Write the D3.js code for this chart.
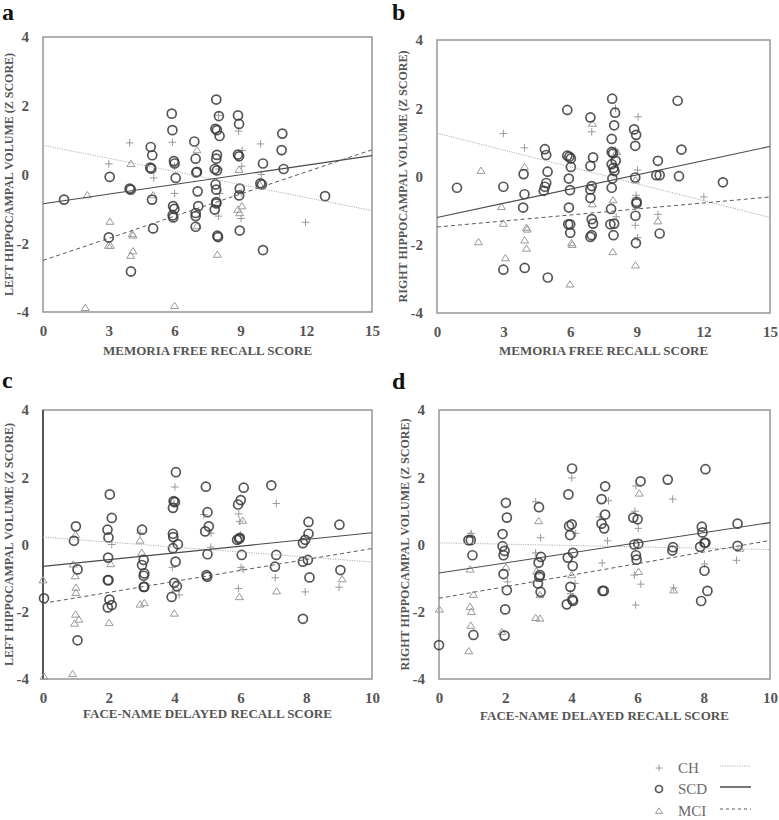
<!DOCTYPE html>
<html><head><meta charset="utf-8">
<script src="https://cdn.jsdelivr.net/npm/d3@7"></script>
<style>body{margin:0;background:#fff;}svg{display:block;}</style>
</head><body>
<svg id="chart" width="779" height="820"></svg>
<script>
// ---------------- DATA ----------------
const groups = ["CH", "SCD", "MCI"];
const yTicks = [-4, -2, 0, 2, 4];
const xTicksMemoria = [0, 3, 6, 9, 12, 15];
const xTicksFaceName = [0, 2, 4, 6, 8, 10];
const xTitles = ["MEMORIA FREE RECALL SCORE", "MEMORIA FREE RECALL SCORE", "FACE-NAME DELAYED RECALL SCORE", "FACE-NAME DELAYED RECALL SCORE"];
const yTitles = ["LEFT HIPPOCAMPAL VOLUME (Z SCORE)", "RIGHT HIPPOCAMPAL VOLUME (Z SCORE)", "LEFT HIPPOCAMPAL VOLUME (Z SCORE)", "RIGHT HIPPOCAMPAL VOLUME (Z SCORE)"];
const panelLabels = ["a", "b", "c", "d"];

// Panel a: Memoria free recall vs left hippocampal volume
const aCH = [[3,0.31],[3.95,0.92],[5.05,-0.1],[5.9,0.94],[6.0,-0.55],[6,0.24],[8.0,1.72],[8.0,-1.21],[8.05,-0.55],[8.02,0.16],[8.92,1.26],[9.08,0.7],[9.06,0.24],[9.03,-1.28],[9.04,-0.53],[9.92,0.89],[9.95,0.0],[11.97,-1.39]];
const aSCD = [[0.96,-0.73],[3.04,-0.07],[3,-1.83],[3.95,-0.41],[4,-0.44],[4.01,-2.82],[4.91,0.8],[4.98,0.56],[4.89,0.2],[4.94,0.17],[4.97,-0.73],[5.02,-1.57],[5.87,1.77],[5.9,1.29],[5.97,0.39],[6.0,0.32],[6.05,-0.1],[5.93,-0.92],[5.99,-1.0],[5.91,-1.19],[5.94,-1.25],[6.9,0.96],[6.96,0.46],[7.02,0.08],[6.99,0.06],[7.05,-0.49],[7.08,-0.92],[6.96,-1.12],[6.96,-1.21],[6.96,-1.52],[7.9,2.18],[8.02,1.7],[7.86,1.33],[7.93,1.29],[8.05,1.12],[7.93,0.57],[7.9,0.46],[7.83,0.16],[7.93,0.12],[7.87,-0.29],[7.9,-0.44],[7.9,-0.8],[7.9,-0.84],[7.83,-1.02],[7.95,-1.78],[7.98,-1.82],[8.89,1.72],[8.94,1.47],[8.89,0.58],[8.94,0.53],[8.97,-0.41],[8.94,-0.61],[8.97,-1.63],[9.91,-0.26],[9.98,-0.29],[10.03,0.32],[10.03,-2.2],[10.91,1.19],[10.88,0.71],[10.97,0.16],[12.86,-0.63]];
const aMCI = [[2.02,-0.6],[1.93,-3.88],[3.05,-1.37],[2.98,-2.07],[3.08,-2.07],[4.01,0.31],[4.07,-1.73],[4.1,-1.77],[4.1,-2.23],[4,-2.36],[5.02,-0.6],[6,-3.82],[7.02,0.71],[7.02,-1.5],[7.95,-2.33],[8.94,0.14],[8.88,-1.02],[8.97,-1.12],[9.07,-0.92],[9.88,-0.29]];

// Panel b: Memoria free recall vs right hippocampal volume
const bCH = [[2.99,1.26],[3.94,0.84],[6.97,1.31],[8.04,2.0],[8.04,0.77],[8.07,-1.18],[9.06,1.75],[9.03,0.19],[8.97,-0.55],[8.93,-1.43],[9.03,-1.79],[12.02,-0.6],[9.95,-1.11]];
const bSCD = [[0.9,-0.33],[2.99,-0.3],[2.99,-2.73],[3.9,0.07],[3.94,-0.52],[3.88,-0.91],[3.95,-2.68],[4.86,0.8],[4.92,0.63],[4.98,0.14],[4.92,-0.19],[4.86,-0.3],[4.81,-0.42],[4.99,-2.96],[5.87,1.95],[5.87,0.61],[5.96,0.58],[6.03,0.53],[6.03,0.28],[5.94,-0.06],[5.99,-0.4],[5.94,-0.91],[5.91,-1.4],[6.0,-1.4],[6.0,-1.65],[6.91,1.73],[7.03,0.56],[6.91,0.31],[6.97,-0.28],[6.91,-0.38],[6.91,-0.63],[6.97,-1.25],[7.03,-1.38],[6.97,-1.72],[6.91,-1.77],[7.89,2.28],[8.02,1.87],[7.98,1.5],[7.87,1.1],[7.87,0.72],[7.93,0.68],[8.05,0.46],[7.87,0.36],[7.95,0.25],[7.99,0.16],[7.9,-0.06],[7.87,-0.33],[7.84,-0.95],[7.81,-1.4],[7.98,-1.38],[7.95,-1.72],[8.88,1.38],[8.97,1.22],[8.93,0.9],[8.93,-0.03],[8.99,-0.74],[8.99,-0.79],[8.94,-1.15],[8.96,-1.95],[9.95,0.46],[9.88,0.04],[10.03,0.04],[10.03,-1.67],[10.84,2.22],[11.01,0.79],[10.9,0.01],[12.88,-0.17]];
const bMCI = [[1.98,0.17],[1.87,-1.92],[2.9,-0.89],[2.99,-1.38],[3.08,-2.39],[3.94,0.28],[4.03,-1.5],[4.06,-1.55],[3.95,-1.87],[4.03,-2.11],[6.06,-1.95],[6.09,-2.0],[5.99,-3.16],[7.0,1.55],[7.0,-0.81],[7.93,-0.69],[7.92,-2.21],[8.1,0.72],[8.94,-0.11],[8.94,-2.6],[9.95,-1.31]];

// Panel c: Face-name delayed recall vs left hippocampal volume
const cCH = [[2.09,0.0],[2.95,0.34],[4.01,1.71],[3.98,1.22],[3.93,-0.68],[4.14,-1.5],[4.89,0.89],[5.11,0.34],[5.1,-0.08],[5.95,0.91],[5.98,0.69],[6.0,0.29],[6.02,-0.68],[6.08,-0.74],[5.94,-1.31],[7.09,1.22],[7.06,-0.99],[7.97,-1.41],[9.0,-1.27]];
const cSCD = [[0.03,-1.6],[0.94,0.11],[1.0,0.54],[1.05,-0.74],[1.05,-2.85],[1.96,0.44],[1.99,0.21],[2.03,1.49],[2.09,0.79],[1.98,-0.39],[1.97,-1.06],[1.99,-1.06],[2.02,-1.64],[1.97,-1.87],[2.09,-1.8],[3.01,0.44],[3.06,-0.46],[3.01,-0.61],[3.08,-0.86],[3.06,-0.93],[3.06,-1.26],[3.08,-1.26],[4.04,2.15],[3.97,1.29],[4.01,1.26],[3.95,1.09],[3.95,0.32],[3.96,0.22],[4.1,0.01],[3.95,-0.11],[4.03,-0.51],[3.99,-1.14],[4.07,-1.24],[3.91,-1.56],[4.95,1.72],[5.0,0.96],[5.04,0.54],[4.93,0.39],[5.0,-0.29],[4.97,-0.91],[4.99,-0.96],[6.1,1.69],[6.01,1.32],[5.93,1.19],[5.9,0.14],[5.96,0.17],[5.98,0.2],[6.04,-0.31],[6.94,1.76],[7.09,-0.31],[7.05,-0.66],[7.9,0.04],[7.97,0.14],[8.07,0.67],[8.07,0.32],[7.9,-0.51],[8.05,-0.46],[8.1,-0.98],[7.9,-2.21],[9.01,0.59],[9.04,-0.76]];
const cMCI = [[0,-1.06],[0.03,-3.93],[0.92,-0.59],[0.99,0.29],[0.98,-0.94],[1.0,-1.28],[1.0,-1.44],[0.99,-2.08],[0.96,-2.35],[1.09,-2.23],[0.9,-3.85],[2.06,-0.58],[2.01,-2.33],[2.95,0.12],[3.0,-0.24],[2.95,-1.78],[3.08,-1.74],[3.99,-2.05],[4.04,-1.31],[5.97,-1.56],[6.07,0.71],[7.1,-1.39],[9.09,-1.03]];

// Panel d: Face-name delayed recall vs right hippocampal volume
const dCH = [[0.97,0.33],[2.07,-1.11],[2.92,1.27],[3.07,0.2],[2.92,-0.25],[4.01,1.98],[4.13,0.33],[4.11,-1.16],[3.97,-1.46],[4.86,0.82],[5.12,1.3],[5.09,0.11],[4.93,-0.55],[5.95,1.74],[5.92,0.99],[6.02,0.48],[6.1,-1.18],[5.94,-1.8],[5.9,-0.91],[7.06,1.35],[7.09,-1.29],[8.02,-0.58],[8.99,-0.47]];
const dSCD = [[0,-2.99],[0.89,0.13],[0.96,0.13],[1.01,-0.32],[1.04,-2.69],[2.02,1.24],[2.05,0.8],[1.92,0.31],[1.92,-0.05],[1.98,-0.19],[1.95,-0.32],[1.95,-0.88],[2.05,-1.36],[2.0,-1.93],[1.98,-2.71],[3.02,1.11],[3.08,-0.37],[3.01,-0.54],[3.05,-0.91],[3.03,-0.96],[2.99,-1.16],[3.07,-1.41],[4.02,2.26],[3.91,1.49],[3.93,0.55],[4.01,0.6],[3.96,0.28],[4.05,-0.25],[3.89,-0.39],[4.04,-0.64],[3.97,-1.26],[4.03,-1.64],[4.05,-1.68],[3.86,-1.78],[5.02,1.73],[4.91,1.35],[5.02,0.89],[4.91,0.62],[4.99,0.48],[4.94,-1.38],[4.98,-1.38],[6.09,1.88],[5.87,0.8],[6.0,0.75],[5.9,0.0],[6.02,0.02],[5.95,-0.32],[5.97,-0.45],[6.91,1.93],[7.07,-0.08],[7.05,-0.18],[8.05,2.24],[7.94,0.53],[7.96,0.36],[7.89,-0.07],[8.05,0.05],[8.02,0.05],[8.02,-0.78],[8.11,-1.38],[7.92,-1.68],[9.02,0.62],[9.02,-0.04]];
const dMCI = [[0.01,-1.93],[0.96,0.29],[0.94,-0.74],[1.04,-1.49],[0.94,-1.85],[0.98,-2.0],[0.96,-2.41],[0.9,-3.17],[2.02,-0.68],[1.9,-2.6],[3.01,0.7],[2.95,-0.8],[3.05,-1.5],[2.92,-2.18],[3.05,-2.2],[4.01,-0.91],[6.05,1.52],[6.03,-0.81],[7.09,-1.36],[9.09,-0.12]];

// Fitted lines: [y at x-min, y at x-max] per group (CH, SCD, MCI)
const aFits = [[0.85, -1.05], [-0.85, 0.55], [-2.5, 0.72]];
const bFits = [[1.27, -1.2], [-1.2, 0.88], [-1.48, -0.6]];
const cFits = [[0.22, -0.52], [-0.65, 0.35], [-1.75, -0.12]];
const dFits = [[0.05, -0.15], [-0.85, 0.65], [-1.6, 0.12]];

// ---------------- LAYOUT ----------------
const panels = [
  {box:[43, 37, 372, 312], xMax:15, xTicks:xTicksMemoria, pts:[aCH, aSCD, aMCI], fits:aFits, titleGap:43, label:[2, 20]},
  {box:[437, 40, 770, 313], xMax:15, xTicks:xTicksMemoria, pts:[bCH, bSCD, bMCI], fits:bFits, titleGap:42, label:[392, 20]},
  {box:[43, 410, 372, 679], xMax:10, xTicks:xTicksFaceName, pts:[cCH, cSCD, cMCI], fits:cFits, titleGap:39, label:[2, 388], darkY:true},
  {box:[439, 410, 770, 679], xMax:10, xTicks:xTicksFaceName, pts:[dCH, dSCD, dMCI], fits:dFits, titleGap:41, label:[392, 389]}
];

const FONT = "'Liberation Serif','Times New Roman',serif";
const TXT = "#555";
const style = {
  CH:  {color:"#9a9a9a", dash:"1.2,1.2", lw:1, lc:"#b0b0b0"},
  SCD: {color:"#383838", dash:null, lw:1.1, lc:"#4a4a4a"},
  MCI: {color:"#9a9a9a", dash:"4,3", lw:1, lc:"#5a5a5a"}
};

const svg = d3.select("#chart");

function drawMarker(g, type, x, y, size) {
  const s = style[type];
  if (type === "CH") {
    g.append("path").attr("d", `M${x-size},${y}H${x+size}M${x},${y-size}V${y+size}`)
      .attr("stroke", s.color).attr("stroke-width", 1).attr("fill", "none");
  } else if (type === "SCD") {
    g.append("circle").attr("cx", x).attr("cy", y).attr("r", size)
      .attr("fill", "none").attr("stroke", s.color).attr("stroke-width", 1.7).attr("stroke-opacity", 0.85);
  } else {
    const h = size * 0.9;
    g.append("path").attr("d", `M${x},${y-h}L${x+size},${y+h*0.75}L${x-size},${y+h*0.75}Z`)
      .attr("fill", "none").attr("stroke", s.color).attr("stroke-width", 1);
  }
}

panels.forEach((p, i) => {
  const [L, T, R, B] = p.box;
  const x = d3.scaleLinear().domain([0, p.xMax]).range([L, R]);
  const y = d3.scaleLinear().domain([-4, 4]).range([B, T]);
  const g = svg.append("g");

  // frame
  g.append("rect").attr("x", L).attr("y", T).attr("width", R - L).attr("height", B - T)
    .attr("fill", "none").attr("stroke", "#8f8f8f").attr("stroke-width", 1.4);
  if (p.darkY) {
    g.append("line").attr("x1", L).attr("x2", L).attr("y1", T).attr("y2", B)
      .attr("stroke", "#555").attr("stroke-width", 2);
  }

  // axes (labels only, no tick marks)
  const xa = g.append("g").attr("transform", `translate(0,${B})`)
    .call(d3.axisBottom(x).tickValues(p.xTicks).tickSize(0).tickPadding(13).tickFormat(d3.format("d")));
  const ya = g.append("g").attr("transform", `translate(${L},0)`)
    .call(d3.axisLeft(y).tickValues(yTicks).tickSize(0).tickPadding(14).tickFormat(d => d < 0 ? "-" + Math.abs(d) : d));
  [xa, ya].forEach(a => {
    a.select(".domain").remove();
    a.selectAll("text").attr("font-family", FONT).attr("font-weight", "bold")
      .attr("font-size", 15).attr("fill", TXT);
  });

  // axis titles
  g.append("text").attr("x", (L + R) / 2).attr("y", B + p.titleGap)
    .attr("text-anchor", "middle").attr("font-family", FONT).attr("font-weight", "bold")
    .attr("font-size", 13).attr("fill", TXT).text(xTitles[i]);
  g.append("text").attr("transform", `translate(${L - 30},${(T + B) / 2}) rotate(-90)`)
    .attr("text-anchor", "middle").attr("font-family", FONT).attr("font-weight", "bold")
    .attr("font-size", 12).attr("fill", TXT).text(yTitles[i]);

  // panel label
  g.append("text").attr("x", p.label[0]).attr("y", p.label[1])
    .attr("font-family", FONT).attr("font-weight", "bold").attr("font-size", 24)
    .attr("fill", "#111").text(panelLabels[i]);

  // points (MCI, CH then SCD on top)
  [2, 0, 1].forEach(k => {
    const gp = g.append("g");
    p.pts[k].forEach(d => drawMarker(gp, groups[k], x(d[0]), y(d[1]), k === 1 ? 4.5 : (k === 0 ? 3.8 : 4)));
  });

  // fitted lines
  groups.forEach((grp, k) => {
    const s = style[grp];
    const f = p.fits[k];
    const ln = g.append("line")
      .attr("x1", x(0)).attr("y1", y(f[0])).attr("x2", x(p.xMax)).attr("y2", y(f[1]))
      .attr("stroke", s.lc).attr("stroke-width", s.lw);
    if (s.dash) ln.attr("stroke-dasharray", s.dash);
  });
});

// legend
const lg = svg.append("g");
const legendRows = [768, 789, 811];
groups.forEach((grp, k) => {
  const cy = legendRows[k];
  drawMarker(lg, grp, 659, cy, 3.5);
  lg.append("text").attr("x", 678).attr("y", cy + 5).attr("font-family", FONT)
    .attr("font-size", 15).attr("fill", "#6a6a6a").text(grp);
  const s = style[grp];
  const ln = lg.append("line").attr("x1", 720).attr("x2", 751).attr("y1", cy - 2).attr("y2", cy - 2)
    .attr("stroke", s.lc).attr("stroke-width", grp === "SCD" ? 1.5 : 1);
  if (s.dash) ln.attr("stroke-dasharray", grp === "MCI" ? "3,3" : s.dash);
});
</script>
</body></html>
